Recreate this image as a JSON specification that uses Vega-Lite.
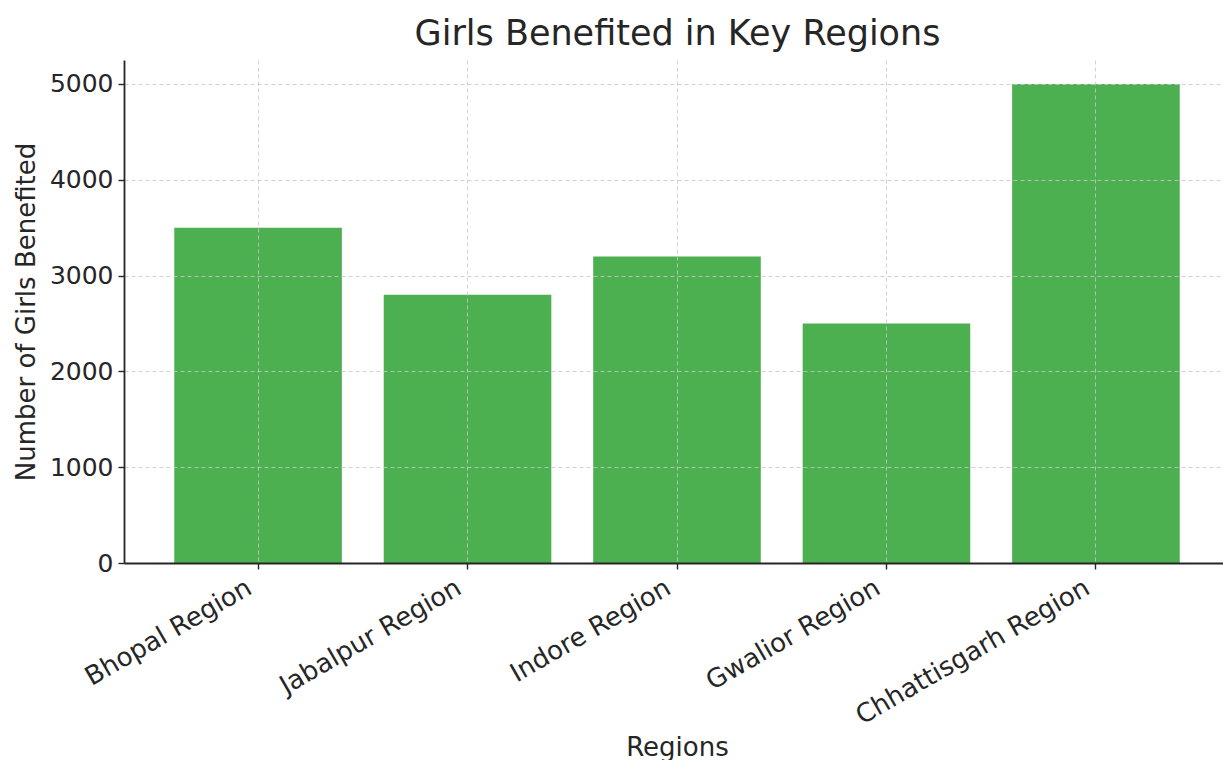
{
  "$schema": "https://vega.github.io/schema/vega-lite/v6.json",
  "autosize": {"type": "none"},
  "padding": {"left": 124, "top": 60, "right": 0, "bottom": 197},
  "width": 1099,
  "height": 503,
  "background": "white",
  "title": {
    "text": "Girls Benefited in Key Regions",
    "font": "DejaVu Sans",
    "fontSize": 35,
    "fontWeight": "normal",
    "color": "#262626",
    "anchor": "middle",
    "frame": "group",
    "dx": 4,
    "offset": 8
  },
  "config": {
    "view": {"stroke": null},
    "font": "DejaVu Sans"
  },
  "data": {
    "values": [
      {"region": "Bhopal Region", "girls": 3500},
      {"region": "Jabalpur Region", "girls": 2800},
      {"region": "Indore Region", "girls": 3200},
      {"region": "Gwalior Region", "girls": 2500},
      {"region": "Chhattisgarh Region", "girls": 5000}
    ]
  },
  "mark": {"type": "bar", "color": "#4CAF50"},
  "encoding": {
    "x": {
      "field": "region",
      "type": "nominal",
      "sort": null,
      "scale": {"range": [0, 1106], "paddingInner": 0.2, "paddingOuter": 0.24},
      "axis": {
        "title": "Regions",
        "titleFont": "DejaVu Sans",
        "titleFontSize": 26,
        "titleFontWeight": "normal",
        "titleColor": "#262626",
        "titleX": 553,
        "titleY": 192,
        "titleBaseline": "alphabetic",
        "labelAngle": -30,
        "labelBaseline": "top",
        "labelAlign": "right",
        "labelOffset": -15,
        "labelLimit": 500,
        "labelFont": "DejaVu Sans",
        "labelFontSize": 26,
        "labelColor": "#262626",
        "labelPadding": 5,
        "domainColor": "#262626",
        "domainWidth": 1.8,
        "tickColor": "#262626",
        "tickSize": 6,
        "tickWidth": 1.4,
        "grid": true,
        "gridColor": "#c8c8c8",
        "gridOpacity": 0.8,
        "gridDash": [4, 3],
        "gridWidth": 1,
        "zindex": 1
      }
    },
    "y": {
      "field": "girls",
      "type": "quantitative",
      "scale": {"domain": [0, 5250], "nice": false, "zero": true},
      "axis": {
        "title": "Number of Girls Benefited",
        "titleFont": "DejaVu Sans",
        "titleFontSize": 26,
        "titleFontWeight": "normal",
        "titleColor": "#262626",
        "titleX": -90,
        "titleBaseline": "alphabetic",
        "values": [0, 1000, 2000, 3000, 4000, 5000],
        "format": "d",
        "labelFont": "DejaVu Sans",
        "labelFontSize": 25,
        "labelColor": "#262626",
        "labelPadding": 5,
        "domainColor": "#262626",
        "domainWidth": 1.8,
        "tickColor": "#262626",
        "tickSize": 6,
        "tickWidth": 1.4,
        "grid": true,
        "gridColor": "#c8c8c8",
        "gridOpacity": 0.8,
        "gridDash": [4, 3],
        "gridWidth": 1,
        "zindex": 1
      }
    }
  }
}
